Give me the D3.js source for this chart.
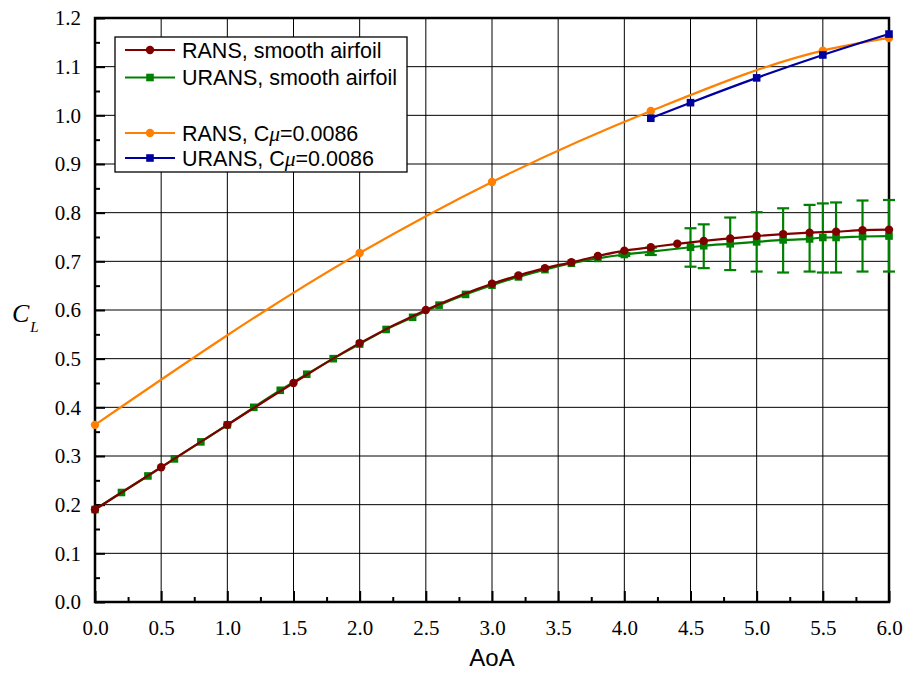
<!DOCTYPE html>
<html><head><meta charset="utf-8">
<script src="https://cdn.jsdelivr.net/npm/d3@7"></script>
<style>body{margin:0;background:#fff}svg{display:block}</style>
</head><body>
<svg id="chart" width="906" height="673"></svg>
<script>
// ---- data ----
const ransSmoothAoA = [0,0.5,1,1.5,2,2.5,3,3.2,3.4,3.6,3.8,4,4.2,4.4,4.6,4.8,5,5.2,5.4,5.6,5.8,6];
const ransSmoothCL  = [0.190,0.277,0.364,0.450,0.532,0.600,0.654,0.671,0.686,0.698,0.711,0.722,0.729,0.736,0.742,0.747,0.752,0.756,0.759,0.761,0.764,0.765];

const uransSmoothAoA = [0,0.2,0.4,0.6,0.8,1.0,1.2,1.4,1.6,1.8,2.0,2.2,2.4,2.6,2.8,3.0,3.2,3.4,3.6,3.8,4.0,4.2,4.5,4.6,4.8,5.0,5.2,5.4,5.5,5.6,5.8,6.0];
const uransSmoothCL  = [0.190,0.225,0.259,0.294,0.329,0.364,0.400,0.435,0.468,0.500,0.530,0.560,0.585,0.610,0.632,0.651,0.668,0.683,0.696,0.706,0.714,0.720,0.729,0.732,0.736,0.740,0.744,0.746,0.749,0.749,0.751,0.752];

const errAoA  = [4.0,4.2,4.5,4.6,4.8,5.0,5.2,5.4,5.5,5.6,5.8,6.0];
const errLow  = [0.711,0.713,0.689,0.686,0.682,0.679,0.677,0.679,0.677,0.677,0.679,0.679];
const errHigh = [0.717,0.728,0.768,0.776,0.790,0.801,0.809,0.816,0.819,0.821,0.825,0.826];

const ransCmuAoA = [0,2,3,4.2,5.5,6];
const ransCmuCL  = [0.364,0.717,0.863,1.009,1.133,1.159];

const uransCmuAoA = [4.2,4.5,5.0,5.5,6.0];
const uransCmuCL  = [0.994,1.026,1.077,1.124,1.167];

const xTicks = [0,0.5,1,1.5,2,2.5,3,3.5,4,4.5,5,5.5,6];
const yTicks = [0,0.1,0.2,0.3,0.4,0.5,0.6,0.7,0.8,0.9,1.0,1.1,1.2];

const legendLabels = ["RANS, smooth airfoil","URANS, smooth airfoil","RANS, C","URANS, C"];

// ---- layout ----
const svg = d3.select("#chart");
const L = 95, R = 889, T = 18, B = 602;
const x = d3.scaleLinear().domain([0,6]).range([L,R]);
const y = d3.scaleLinear().domain([0,1.2]).range([B,T]);

const red="#800000", green="#008000", orange="#FF8000", blue="#0000A0";

// grid
const g = svg.append("g");
g.selectAll(".vg").data(xTicks.slice(1,-1)).join("line")
  .attr("x1",d=>x(d)).attr("x2",d=>x(d)).attr("y1",T).attr("y2",B)
  .attr("stroke","#000").attr("stroke-width",1);
g.selectAll(".hg").data(yTicks.slice(1,-1)).join("line")
  .attr("y1",d=>y(d)).attr("y2",d=>y(d)).attr("x1",L).attr("x2",R)
  .attr("stroke","#000").attr("stroke-width",1);

// axes (inward ticks)
const xAxis = d3.axisBottom(x).tickValues(xTicks).tickFormat(d3.format(".1f")).tickSizeInner(-11).tickSizeOuter(0).tickPadding(18);
const xMinor = d3.axisBottom(x).tickValues(d3.range(0.25,6,0.5)).tickFormat("").tickSizeInner(-5).tickSizeOuter(0);
const yAxis = d3.axisLeft(y).tickValues(yTicks).tickFormat(d3.format(".1f")).tickSizeInner(-10).tickSizeOuter(0).tickPadding(14);
const yMinor = d3.axisLeft(y).tickValues(d3.range(0.05,1.2,0.1)).tickFormat("").tickSizeInner(-5).tickSizeOuter(0);

function styleAxis(sel){
  sel.select(".domain").remove();
  sel.selectAll("line").attr("stroke","#000").attr("stroke-width",2);
  sel.selectAll("text").attr("font-family","'Liberation Serif','Times New Roman',serif").attr("font-size",21).attr("fill","#000");
}
svg.append("g").attr("transform",`translate(0,${B})`).call(xAxis).call(styleAxis);
svg.append("g").attr("transform",`translate(0,${B})`).call(xMinor).call(styleAxis);
svg.append("g").attr("transform",`translate(${L},0)`).call(yAxis).call(styleAxis);
svg.append("g").attr("transform",`translate(${L},0)`).call(yMinor).call(styleAxis);

// frame
svg.append("rect").attr("x",L).attr("y",T).attr("width",R-L).attr("height",B-T)
  .attr("fill","none").attr("stroke","#000").attr("stroke-width",2.5);

// series
const line = d3.line().x(d=>x(d[0])).y(d=>y(d[1])).curve(d3.curveMonotoneX);
function zip(a,b){return a.map((v,i)=>[v,b[i]]);}

function drawSeries(data,color,shape){
  const s = svg.append("g");
  s.append("path").datum(data).attr("d",line).attr("fill","none").attr("stroke",color).attr("stroke-width",2.2);
  if(shape==="circle"){
    s.selectAll("circle").data(data).join("circle").attr("cx",d=>x(d[0])).attr("cy",d=>y(d[1])).attr("r",4.2).attr("fill",color);
  } else {
    s.selectAll("rect").data(data).join("rect").attr("x",d=>x(d[0])-3.8).attr("y",d=>y(d[1])-3.8).attr("width",7.6).attr("height",7.6).attr("fill",color);
  }
}

// green error bars
const eb = svg.append("g").attr("stroke",green).attr("stroke-width",2.2);
errAoA.forEach((a,i)=>{
  eb.append("line").attr("x1",x(a)).attr("x2",x(a)).attr("y1",y(errLow[i])).attr("y2",y(errHigh[i]));
  eb.append("line").attr("x1",x(a)-6).attr("x2",x(a)+6).attr("y1",y(errLow[i])).attr("y2",y(errLow[i]));
  eb.append("line").attr("x1",x(a)-6).attr("x2",x(a)+6).attr("y1",y(errHigh[i])).attr("y2",y(errHigh[i]));
});
drawSeries(zip(uransSmoothAoA,uransSmoothCL),green,"square");
drawSeries(zip(ransSmoothAoA,ransSmoothCL),red,"circle");
drawSeries(zip(ransCmuAoA,ransCmuCL),orange,"circle");
drawSeries(zip(uransCmuAoA,uransCmuCL),blue,"square");

// axis titles
svg.append("text").attr("x",(L+R)/2).attr("y",666).attr("text-anchor","middle")
  .attr("font-family","'Liberation Sans',Arial,sans-serif").attr("font-size",24).text("AoA");
const cl = svg.append("text").attr("x",12).attr("y",322)
  .attr("font-family","'Liberation Serif','Times New Roman',serif").attr("font-style","italic").attr("font-size",26);
cl.append("tspan").text("C");
cl.append("tspan").attr("font-size",15).attr("dx",1).attr("dy",10).text("L");

// legend
const lg = svg.append("g");
lg.append("rect").attr("x",115).attr("y",37).attr("width",292).attr("height",135)
  .attr("fill","#fff").attr("stroke","#000").attr("stroke-width",1.3);
const legendY = [50,77.5,133,158];
const legendColors = [red,green,orange,blue];
const legendShapes = ["circle","square","circle","square"];
legendLabels.forEach((lab,i)=>{
  const yy = legendY[i];
  lg.append("line").attr("x1",125).attr("x2",175).attr("y1",yy).attr("y2",yy).attr("stroke",legendColors[i]).attr("stroke-width",2.2);
  if(legendShapes[i]==="circle") lg.append("circle").attr("cx",150).attr("cy",yy).attr("r",4.2).attr("fill",legendColors[i]);
  else lg.append("rect").attr("x",146.2).attr("y",yy-3.8).attr("width",7.6).attr("height",7.6).attr("fill",legendColors[i]);
  const t = lg.append("text").attr("x",182).attr("y",yy+7.5)
    .attr("font-family","'Liberation Sans',Arial,sans-serif").attr("font-size",21.5).text(lab);
  if(i>=2){
    t.append("tspan").attr("font-family","'Liberation Serif','Times New Roman',serif").attr("font-style","italic").text("\u03BC");
    t.append("tspan").text("=0.0086");
  }
});
</script>
</body></html>
